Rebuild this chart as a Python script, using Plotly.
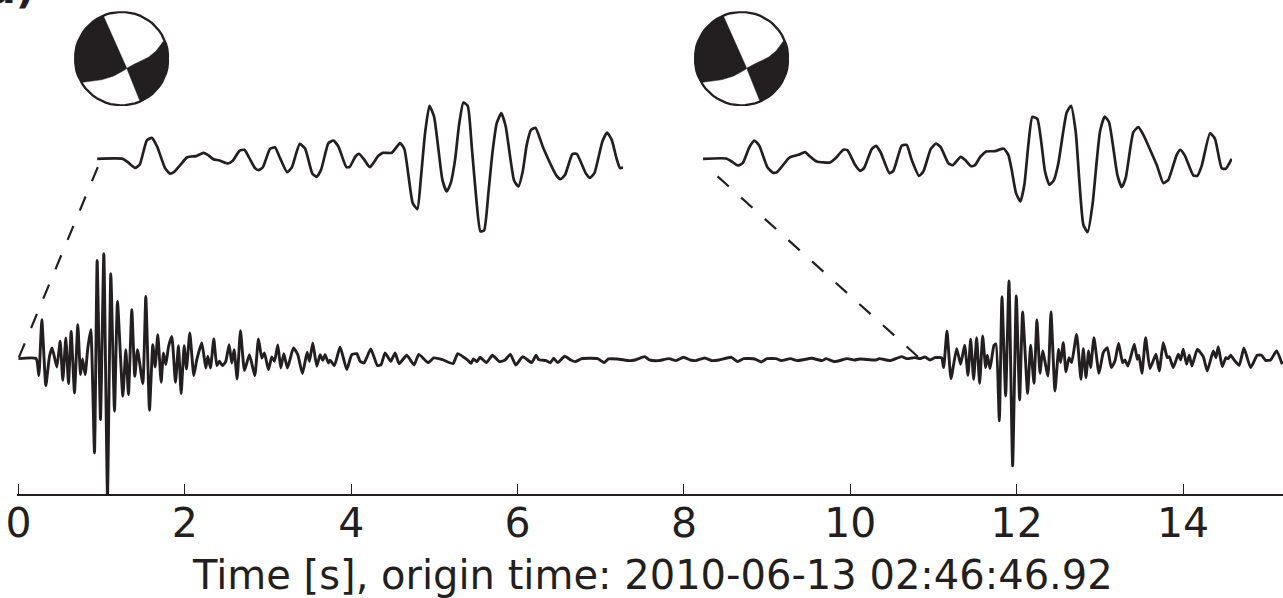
import numpy as np
import plotly.graph_objects as go

INK = "#231f20"
W, H = 1283, 598
# plot area in page pixels
L, R, T, B = 16.9, 1283.0, 0.0, 494.5
X0 = 18.4                    # pixel of t = 0
PX_PER_S = 83.19

SAMPLE_RATE = 249.6          # samples per second of the full trace
tick_vals = [0, 2, 4, 6, 8, 10, 12, 14]
xlabel = "Time [s], origin time: 2010-06-13 02:46:46.92"

main_n = [0,53,61,70,82,93,101,115,125,133,142,150,158,168,178,186,192,200,208,217,228,236,246,256,267,277,288,297,313,322,330,340,349,357,373,382,393,403,410,418,428,435,442,450,460,471,480,488,497,504,514,526,535,550,562,568,576,586,595,603,612,622,632,640,647,656,666,678,693,709,720,730,738,750,760,768,778,787,796,807,825,838,852,866,873,883,895,905,913,920,930,935,948,965,985,1000,1015,1025,1037,1057,1077,1088,1100,1117,1130,1142,
1165,1187,1201,1229,1246,1272,1304,1318,1347,1358,1365,1376,1385,1404,1422,1443,1460,1476,1492,1513,1540,1553,1561,1583,1596,1606,1618,1639,1657,1671,1690,1738,1757,1770,1797,1834,1850,1879,1893,1920,1952,1973,1995,2016,2032,2059,2080,2102,2139,2158,2176,2209,2228,2246,2273,2289,2316,2337,2380,2412,2423,2449,2487,2508,2524,2572,2583,2615,
2650,2665,2690,2705,2720,2735,2750,2770,2776,2786,2798,2815,2827,2839,2849,2857,2866,2875,2884,2893,2902,2907,2915,2927,2933,2943,2951,2962,2972,2983,2994,3004,3013,3028,3037,3047,3056,3065,3073,3089,3098,3110,3121,3127,3135,3143,3152,3160,3175,3188,3195,3203,3211,3217,3227,3242,3255,3267,3279,3290,3301,3313,3320,3329,3348,3357,3362,3371,3382,3395,3413,3423,3435,3447,3453,3465,3480,3487,3495,3505,3513,3521,3537,3555,3567,3585,3593,3600,3612,3623,3630,3637,3650,3663,3677,3697,3717,3730,3742,3757,3775,3792]
main_amp = [0,0,-51,117,-81,7,32,-25,52,-65,62,-75,82,-103,102,-48,-1,-48,32,87,-283,295,-183,315,-413,255,-158,172,-113,27,-108,147,-53,27,-75,187,-155,42,-25,72,-71,17,-18,35,67,-71,39,-105,39,-31,77,-51,-3,47,-28,7,-28,59,-21,-8,-21,-8,42,-13,27,-61,84,-36,12,-51,59,2,17,-33,5,-8,41,-28,15,-28,32,12,-45,19,-8,47,-23,12,-5,12,-13,-5,-21,35,-33,12,15,-8,-13,29,-21,-18,17,-8,17,-15,
10,-19,13,-12,2,-3,-15,15,-4,-14,-1,-9,4,-12,10,-9,-4,13,-19,6,-12,10,-3,-6,-12,1,-12,7,-4,-9,0,0,-12,-1,-1,-6,-4,6,-4,-6,0,-6,4,-4,-6,2,-6,-4,4,-9,0,-1,-10,0,0,-6,0,-6,1,-6,0,-9,0,-4,-1,-4,0,-6,
6,0,3,0,5,-4,3,2,-27,83,-60,30,-17,40,-50,58,-62,63,-74,68,-27,10,-30,40,44,-187,186,-112,233,-322,188,-124,140,-104,40,-74,116,-44,23,-52,140,-97,28,-12,48,-40,3,-12,73,-62,30,-57,23,-27,63,-44,18,33,-27,-7,46,-12,-4,-22,43,-2,10,-44,63,-30,13,-37,48,3,6,-27,13,-4,28,-17,10,-22,28,6,-37,23,3,36,-24,3,0,10,-7,-20,32,-27,10,10,-5,-4,23,-17]

inset1_n = [0,77,92,114,128,149,164,180,204,218,230,250,269,282,297,319,332,349,367,392,407,427,442,457,474,484,497,519,534,549,570,584,608,624,646,659,672,694,709,724,748,758,775,786,802,814,
819,844,857,884,909,922,947,961,971,984,997,1011,1036,1049,1061,1074,1086,1099,1112,1124,1137,1150,1161,1174,1186,1199,1213,1226,1251,1264,1277,1289,1302,1315,1339,1379,1391,1404,1426,1439,1466,1479,1492,1516,1530,1544,1559,1569,1579]
inset1_amp = [0,0,-10,-27,-17,55,63,37,-28,-44,-40,-18,4,7,8,18,12,-1,-5,-14,-6,24,27,2,-28,-34,-26,30,34,2,-40,-26,45,31,-45,-54,-33,47,55,37,-25,-24,7,15,-3,-21,
-25,9,18,18,47,29,-133,-151,-63,77,159,127,-63,-98,-73,-3,102,169,159,37,-113,-218,-215,-103,17,107,137,97,-65,-83,-38,42,87,93,32,-51,-61,-48,14,15,-43,-57,-43,52,79,57,-1,-28,-26]

inset2_n = [0,69,86,104,119,139,154,169,193,211,223,256,266,286,306,321,341,381,396,421,433,456,471,483,506,519,533,559,571,596,611,626,648,661,683,699,713,736,749,773,786,804,816,831,
836,849,876,896,903,916,926,939,952,964,976,988,1003,1026,1039,1053,1066,1091,1104,1118,1141,1154,1169,1181,1191,1205,1218,1243,1256,1268,1291,1306,1321,1361,1381,1396,1421,1432,1446,1471,1483,1496,1521,1536,1556,1568,1586]
inset2_amp = [0,1,-8,-20,-13,35,55,39,-25,-42,-39,1,7,12,20,7,-8,-11,0,27,26,-18,-36,-28,29,39,19,-43,-36,39,42,-3,-51,-38,29,46,35,-13,-19,6,-3,-22,-19,5,
10,22,23,30,30,12,-33,-103,-128,-78,42,126,120,-38,-78,-63,-13,139,159,82,-198,-220,-133,-8,82,127,110,-48,-85,-58,80,95,72,-18,-73,-63,12,27,9,-50,-51,-21,77,60,-28,-30,0]

# focal mechanism nodal curves, on the unit stereonet
np_left_x = [-0.82, -0.454, -0.173, 0.109]
np_left_y = [-0.50, -0.451, -0.366, -0.204]
np_right_x = [0.109, 0.461, 0.743, 0.87]
np_right_y = [-0.204, -0.028, 0.183, 0.359]
np_straight_top = (-0.37, 0.873)
np_straight_bot = (0.377, -0.873)


def xd(a, b):
    return [(a - L) / (R - L), (b - L) / (R - L)]


def yd(a, b):
    return [(B - b) / (B - T), (B - a) / (B - T)]


def arc(a0, a1, r=0.975):
    th = np.radians(np.linspace(a0, a1, 60))
    return (r * np.cos(th)).tolist(), (r * np.sin(th)).tolist()


def smooth(xs, ys):
    """Smooth nodal curve through the read points."""
    c = np.polyfit(xs, ys, 3)
    xx = np.linspace(xs[0], xs[-1], 30)
    return xx.tolist(), np.polyval(c, xx).tolist()


fig = go.Figure()

# main seismogram
fig.add_trace(go.Scatter(x=np.array(main_n) / SAMPLE_RATE, y=main_amp, mode="lines",
                         line=dict(color=INK, width=2.9, shape="spline", smoothing=0.45),
                         hoverinfo="skip", showlegend=False))

# dashed connector lines live on a hidden axis spanning the whole plot
dash_x = [[97.7, 18.3], [703 + 14.5, 920]]
dash_y = [[167.3, 359], [176.5, 359]]
for dx, dy in zip(dash_x, dash_y):
    fig.add_trace(go.Scatter(x=dx, y=dy, xaxis="x4", yaxis="y4", mode="lines",
                             line=dict(color=INK, width=2.2, dash="15.2px,16.6px"),
                             hoverinfo="skip", showlegend=False))

# zoomed insets
for xn, n, amp in (("2", inset1_n, inset1_amp), ("3", inset2_n, inset2_amp)):
    fig.add_trace(go.Scatter(x=n, y=amp, xaxis="x" + xn, yaxis="y" + xn, mode="lines",
                             line=dict(color=INK, width=2.7, shape="spline", smoothing=0.5),
                             hoverinfo="skip", showlegend=False))

# beach balls
for k in ("5", "6"):
    ax, ay = arc(113, 211.4)
    sx, sy = smooth(np_left_x, np_left_y)
    lobe1x = ax + sx + [np_straight_top[0]]
    lobe1y = ay + sy + [np_straight_top[1]]
    bx, by = arc(22.4, -66.6)
    sx, sy = smooth(np_right_x, np_right_y)
    lobe2x = bx + [np_straight_bot[0]] + sx
    lobe2y = by + [np_straight_bot[1]] + sy
    for lx, ly in ((lobe1x, lobe1y), (lobe2x, lobe2y)):
        fig.add_trace(go.Scatter(x=lx, y=ly, xaxis="x" + k, yaxis="y" + k, mode="lines",
                                 fill="toself", fillcolor=INK, line=dict(color=INK, width=0.5),
                                 hoverinfo="skip", showlegend=False))
    cx, cy = arc(0, 360, r=0.985)
    fig.add_trace(go.Scatter(x=cx, y=cy, xaxis="x" + k, yaxis="y" + k, mode="lines",
                             line=dict(color=INK, width=2.3), hoverinfo="skip", showlegend=False))

hidden = dict(visible=False, fixedrange=True)
layout = dict(
    width=W, height=H, autosize=False,
    margin=dict(l=L, r=W - R, t=T, b=H - B, autoexpand=False),
    paper_bgcolor="white", plot_bgcolor="rgba(0,0,0,0)",
    showlegend=False,
    font=dict(family="DejaVu Sans", color=INK),
    xaxis=dict(range=[(L - X0) / PX_PER_S, (R - X0) / PX_PER_S], tickmode="array", tickvals=tick_vals,
               ticktext=[str(v) for v in tick_vals], ticks="inside", ticklen=10, tickwidth=1.3,
               tickcolor=INK, showline=True, linecolor=INK, linewidth=1.8, showgrid=False,
               zeroline=False, tickfont=dict(size=41, color=INK), ticklabelstandoff=-8),
    yaxis=dict(range=[-(B - 359) * 3, 359 * 3], visible=False),
    # insets: 1 count = 1/3 px, baseline at y = 159
    xaxis2=dict(domain=xd(97, 623), range=[0, 1578], anchor="y2", **hidden),
    yaxis2=dict(domain=yd(90, 240), range=[-243, 207], anchor="x2", **hidden),
    xaxis3=dict(domain=xd(703, 1232), range=[0, 1587], anchor="y3", **hidden),
    yaxis3=dict(domain=yd(90, 240), range=[-243, 207], anchor="x3", **hidden),
    xaxis4=dict(domain=[0, 1], range=[L, R], anchor="y4", **hidden),
    yaxis4=dict(domain=[0, 1], range=[B, T], anchor="x4", **hidden),
    xaxis5=dict(domain=xd(74, 169), range=[-1, 1], anchor="y5", **hidden),
    yaxis5=dict(domain=yd(11.2, 106.2), range=[-1, 1], anchor="x5", **hidden),
    xaxis6=dict(domain=xd(694, 789), range=[-1, 1], anchor="y6", **hidden),
    yaxis6=dict(domain=yd(11.2, 106.2), range=[-1, 1], anchor="x6", **hidden),
    annotations=[
        dict(text="<b>a)</b>", xref="paper", yref="paper",
             x=(-14 - L) / (R - L), y=(B - (-37)) / (B - T),
             xanchor="left", yanchor="top", showarrow=False,
             font=dict(size=41, color=INK, family="DejaVu Sans")),
        dict(text=xlabel, xref="paper", yref="paper",
             x=(652 - L) / (R - L), y=(B - 575.5) / (B - T),
             xanchor="center", yanchor="middle", showarrow=False,
             font=dict(size=40, color=INK, family="DejaVu Sans")),
    ],
)
fig.update_layout(**layout)
fig.write_html("out.html", config={"displayModeBar": False},
               post_script="document.documentElement.style.margin='0';document.body.style.margin='0';document.body.style.overflow='hidden';")
